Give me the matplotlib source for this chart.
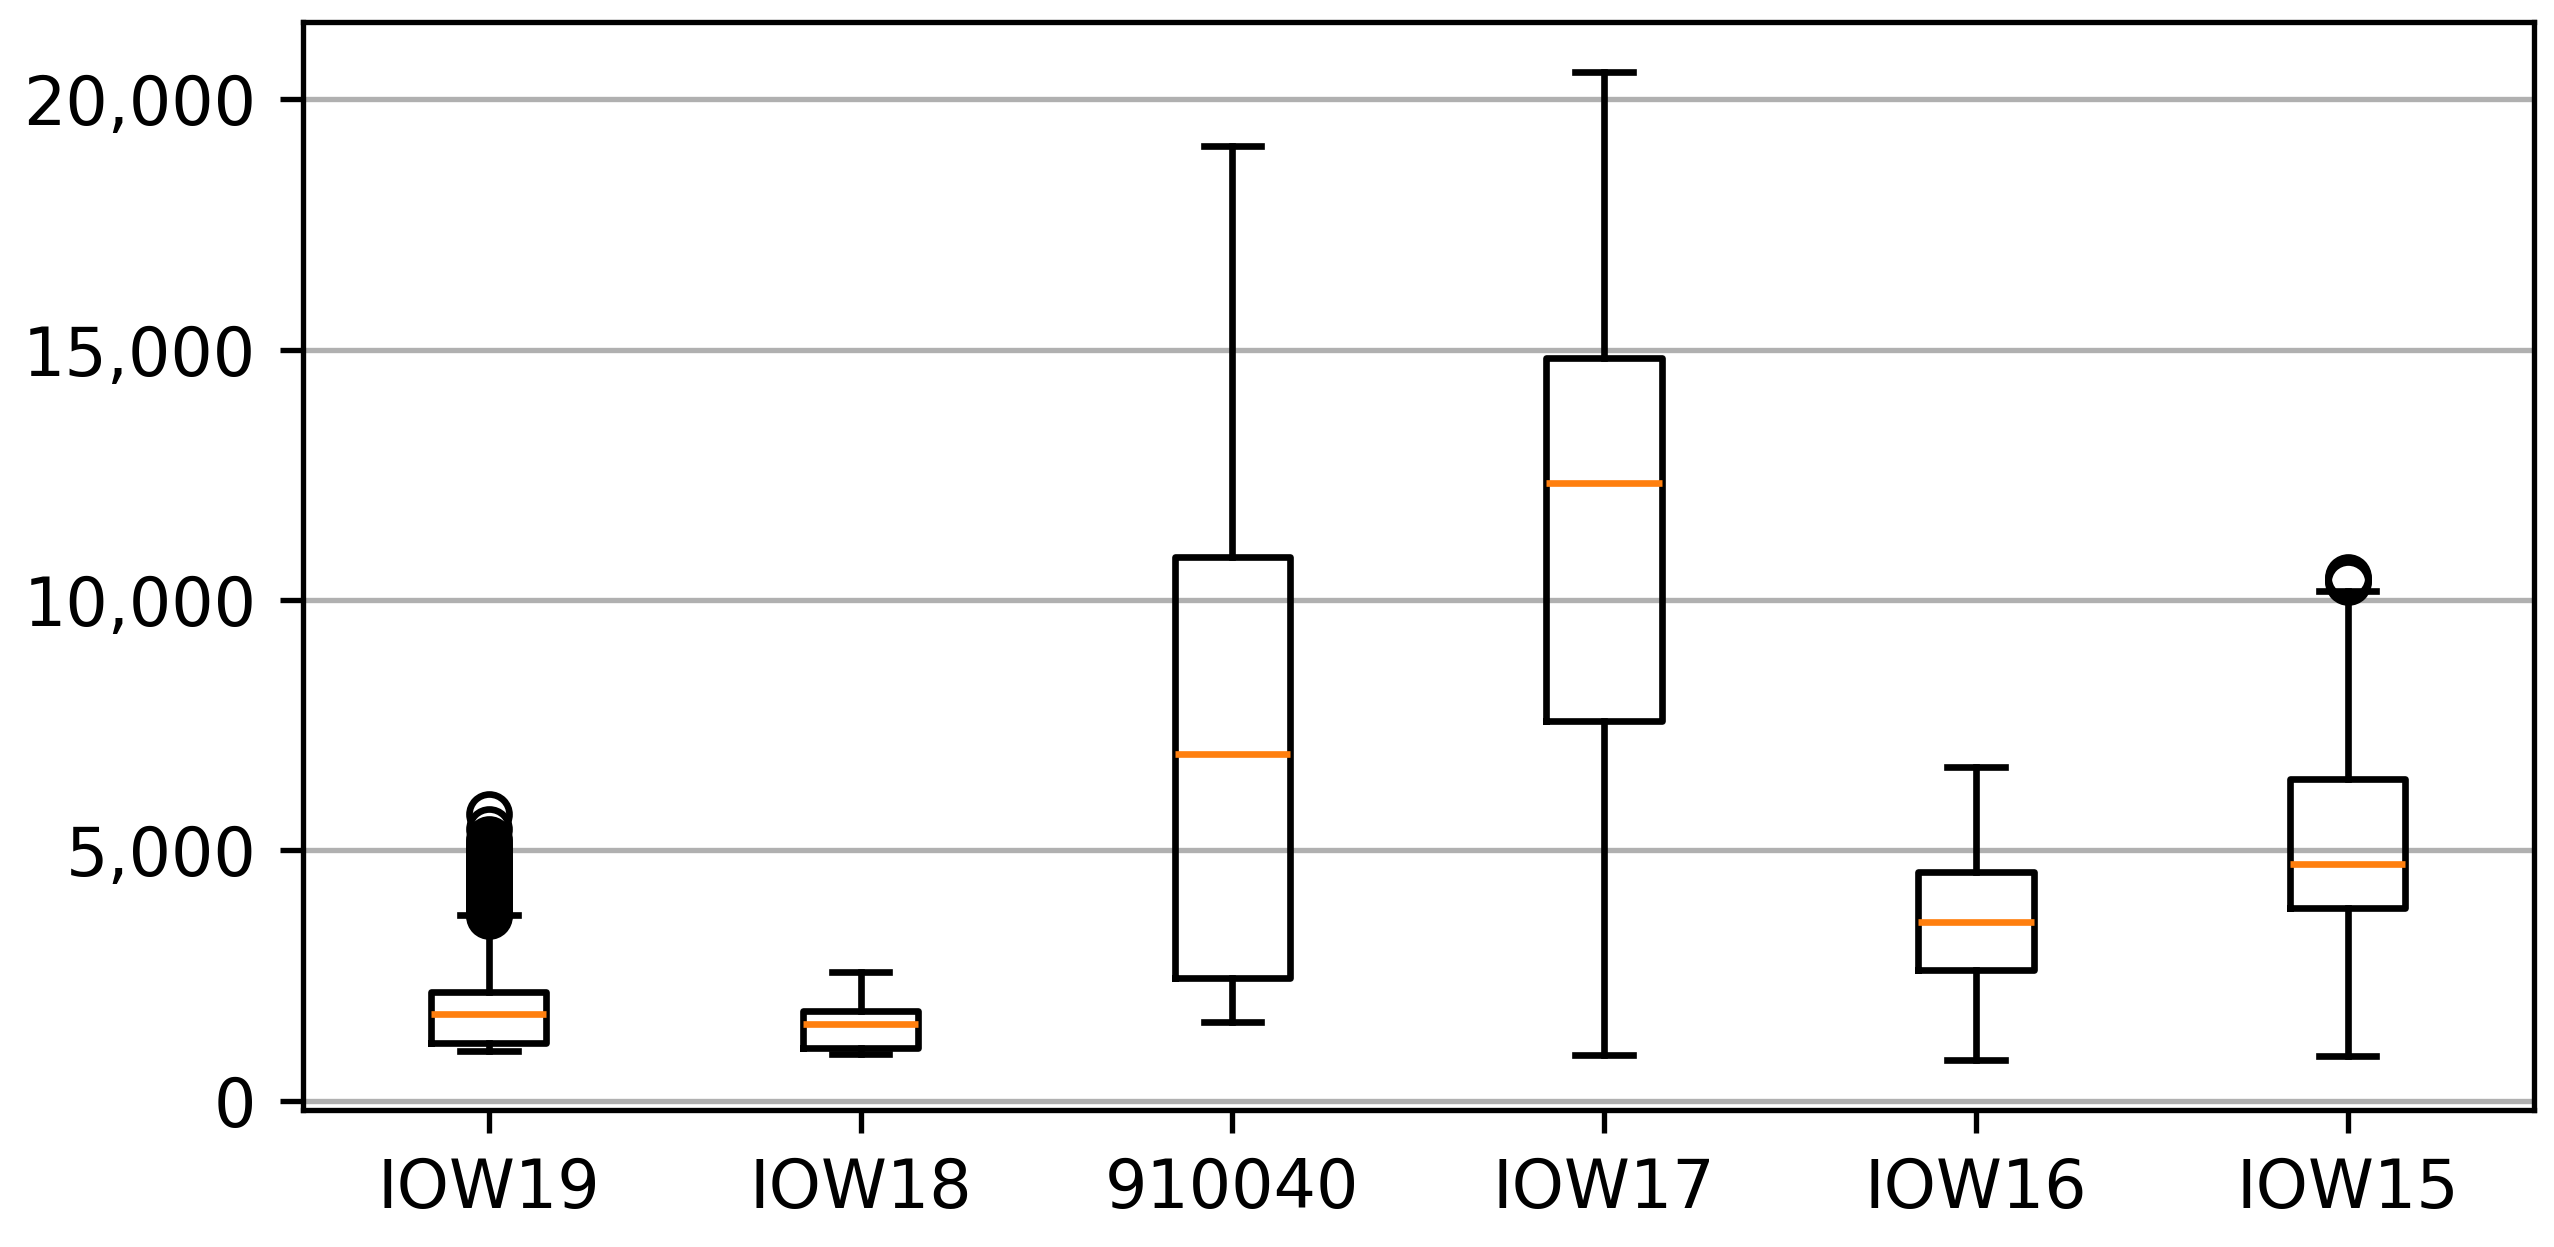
import matplotlib
matplotlib.use("Agg")
import matplotlib.pyplot as plt
from matplotlib.ticker import FuncFormatter

# values
labels = ["IOW19", "IOW18", "910040", "IOW17", "IOW16", "IOW15"]
whislo = [993, 937, 1567, 921, 804, 884]
q1 = [1159, 1051, 2447, 7588, 2612, 3842]
med = [1722, 1529, 6928, 12344, 3563, 4720]
q3 = [2172, 1795, 10859, 14832, 4572, 6434]
whishi = [3710, 2566, 19079, 20550, 6666, 10188]

fliers_iow19 = [3680, 3720, 3760, 3800, 3840, 3880, 3920, 3960, 4000, 4040,
                4080, 4120, 4160, 4200, 4240, 4280, 4320, 4360, 4400, 4440,
                4480, 4520, 4560, 4600, 4640, 4680, 4720, 4760, 4800, 4850,
                4900, 4950, 5000, 5050, 5100, 5160, 5230, 5420, 5716]
fliers_iow15 = [10360, 10400, 10430, 10470]
fliers = [fliers_iow19, [], [], [], [], fliers_iow15]


def build_stats():
    stats = []
    for i in range(len(labels)):
        stats.append({
            "label": labels[i],
            "whislo": whislo[i],
            "q1": q1[i],
            "med": med[i],
            "q3": q3[i],
            "whishi": whishi[i],
            "fliers": fliers[i],
        })
    return stats


dpi = 480
fig = plt.figure(figsize=(2554 / dpi, 1247 / dpi), dpi=dpi)
ax = fig.add_axes([0.1186, 0.110, 0.992 - 0.1186, 0.982 - 0.110])

ax.bxp(build_stats(), widths=0.31, showfliers=True)
ax.grid(axis="y")
ax.set_axisbelow(True)
ax.yaxis.set_major_formatter(FuncFormatter(lambda v, p: "{:,.0f}".format(v)))

fig.savefig("out.png", dpi=dpi)
